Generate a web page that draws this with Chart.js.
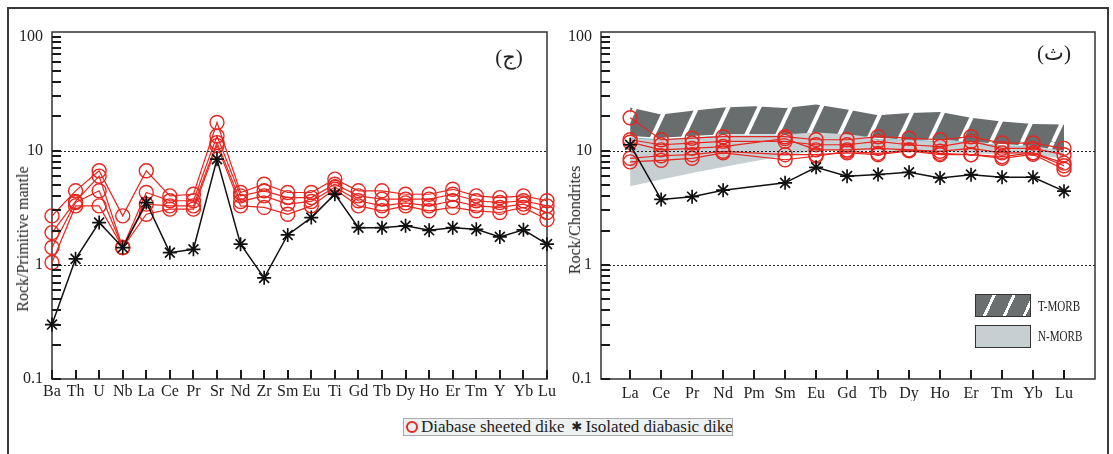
<!DOCTYPE html>
<html>
<head>
<meta charset="utf-8">
<title>Spider diagrams</title>
<script src="https://cdn.jsdelivr.net/npm/chart.js@4.4.1/dist/chart.umd.min.js"></script>
<style>
  body { margin: 0; width: 1113px; height: 454px; overflow: hidden; position: relative; background: #fff;
         font-family: "Liberation Serif", "DejaVu Serif", serif; color: #222; }
  .frame { position: absolute; left: 7px; top: 7px; width: 1098px; height: 470px; border: 2px solid #3a3a3a; }
  .panel { position: absolute; top: 10px; height: 400px; }
  #left-panel { left: 8px; width: 560px; }
  #right-panel { left: 557px; width: 548px; }
  .ytitle { position: absolute; font-size: 16px; white-space: nowrap; transform: translate(-50%, -50%) rotate(-90deg); }
  .tag { position: absolute; font-family: "Liberation Serif", "DejaVu Sans", serif; font-size: 21px; transform: translate(-50%, -50%); direction: ltr; unicode-bidi: isolate; }
  .swatch { position: absolute; left: 975px; width: 54px; border: 1.5px solid #333; }
  #sw-t { top: 294px; height: 21px; background: repeating-linear-gradient(115deg, #6c6f70 0 15px, #fff 15px 18px); }
  #sw-n { top: 325px; height: 21px; background: #c8cfd3; }
  .swlabel { position: absolute; left: 1038px; font-size: 15px; transform: scaleX(0.74); transform-origin: left center; line-height: 15px; }
  .legend { position: absolute; left: 403px; top: 418px; width: 328px; height: 16px; background: #edf1f1; border: 1px solid #aaa;
            display: flex; align-items: center; font-size: 17px; line-height: 16px; white-space: nowrap; overflow: hidden; }
  .ring { flex: 0 0 auto; width: 8px; height: 8px; border: 2px solid #e62a22; border-radius: 50%; margin: 0 3px 0 2px; }
  .ast { flex: 0 0 auto; font-family: "DejaVu Sans", sans-serif; font-size: 13px; margin: 0 3px 0 7px; }
</style>
</head>
<body>
<div class="frame"></div>
<div class="panel" id="left-panel"><canvas id="chart-pm"></canvas></div>
<div class="panel" id="right-panel"><canvas id="chart-ree"></canvas></div>
<div class="ytitle" style="left:23px; top:239px;">Rock/Primitive mantle</div>
<div class="ytitle" style="left:575px; top:220px;">Rock/Chondrites</div>
<div class="tag" style="left:509px; top:57px;">(ج)</div>
<div class="tag" style="left:1054px; top:53px;">(ث)</div>
<div class="swatch" id="sw-t"></div>
<div class="swatch" id="sw-n"></div>
<div class="swlabel" style="top:299px;">T-MORB</div>
<div class="swlabel" style="top:329px;">N-MORB</div>
<div class="legend"><span class="ring"></span>Diabase sheeted dike<span class="ast">✱</span>Isolated diabasic dike</div>
<script>
// primitive-mantle normalised (left panel)
const pmLabels = ['Ba','Th','U','Nb','La','Ce','Pr','Sr','Nd','Zr','Sm','Eu','Ti','Gd','Tb','Dy','Ho','Er','Tm','Y','Yb','Lu'];
const pmIsolated = [0.30,1.13,2.35,1.42,3.52,1.28,1.37,8.45,1.52,0.77,1.83,2.60,4.17,2.12,2.12,2.20,2.01,2.12,2.05,1.76,2.03,1.52];
const pmSheeted1 = [2.69,4.46,6.68,2.69,6.68,4.03,4.16,17.7,4.31,5.10,4.31,4.31,5.65,4.46,4.46,4.16,4.16,4.60,4.03,3.89,4.03,3.65];
const pmSheeted2 = [1.92,3.60,6.00,1.42,4.31,3.65,3.65,13.5,4.03,4.46,3.89,3.89,5.10,4.03,3.77,3.77,3.77,4.16,3.65,3.52,3.65,3.29];
const pmSheeted3 = [1.42,3.52,4.46,1.42,3.41,3.29,3.29,11.8,3.60,4.03,3.41,3.60,4.80,3.65,3.29,3.50,3.29,3.65,3.29,3.19,3.41,2.88];
const pmSheeted4 = [1.05,3.29,3.29,1.42,2.78,3.08,3.08,11.1,3.29,3.19,2.78,3.29,4.60,3.29,2.98,3.29,2.98,3.19,2.98,2.88,3.19,2.50];

// chondrite normalised REE (right panel), Pm not analysed
const reeLabels = ['La','Ce','Pr','Nd','Pm','Sm','Eu','Gd','Tb','Dy','Ho','Er','Tm','Yb','Lu'];
const reeIsolated = [11.3,3.75,3.96,4.52,null,5.24,7.17,6.00,6.20,6.49,5.79,6.18,5.87,5.87,4.43];
const reeSheeted1 = [19.5,12.5,12.9,13.3,null,13.3,12.5,12.5,13.3,12.9,12.5,13.3,11.7,11.7,10.5];
const reeSheeted2 = [12.5,11.3,11.7,12.1,null,12.1,11.3,11.3,12.1,11.3,10.9,12.1,10.5,10.5,9.25];
const reeSheeted3 = [11.9,10.2,10.5,10.9,null,12.8,10.2,10.2,10.5,10.2,9.9,10.5,9.6,9.6,7.8];
const reeSheeted4 = [8.6,9.05,9.25,9.9,null,9.25,9.25,9.6,9.25,10.0,9.25,9.25,8.6,9.3,6.9];
const reeSheeted5 = [8.0,8.25,8.6,9.6,null,8.35,9.0,9.9,9.5,10.2,9.5,9.25,8.9,9.6,7.4];
const tmorbLow  = [13.5,13.0,13.5,14.0,14.0,14.0,14.5,14.0,13.0,12.5,12.5,12.0,11.5,11.0,10.0];
const tmorbHigh = [24.0,20.8,22.4,24.0,24.6,23.7,25.5,23.0,20.5,21.4,21.9,19.5,18.1,17.2,17.0];
const nmorbLow  = [4.9,5.6,6.4,7.2,8.1,9.0,10.0,10.0,10.0,10.0,9.8,9.5,9.3,9.3,8.5];
const nmorbHigh = [13.0,12.5,13.0,13.5,13.5,13.5,15.5,14.5,12.5,12.5,12.0,12.0,11.0,11.0,10.5];

// log axis
const decades = [0.1, 1, 10, 100];
const refLines = [1, 10];
const yTickValues = [];
decades.forEach(d => {
  for (let m = 1; m <= 9; m++) {
    if (d === 100 && m > 1) break;
    yTickValues.push(+(d * m).toPrecision(3));
  }
});

const RED = 'rgb(230, 38, 32)';
Chart.defaults.font.family = '"Liberation Serif", "DejaVu Serif", serif';
Chart.defaults.font.size = 16;
Chart.defaults.color = '#222';

// frame, dotted reference lines and inward tick marks
const framePlugin = {
  id: 'framePlugin',
  beforeDatasetsDraw(chart) {
    const { ctx, chartArea: a } = chart;
    ctx.save();
    ctx.strokeStyle = '#333';
    ctx.lineWidth = 1.5;
    ctx.strokeRect(a.left, a.top, a.right - a.left, a.bottom - a.top);
    ctx.restore();
  },
  afterDatasetsDraw(chart) {
    const { ctx, chartArea: a } = chart;
    const x = chart.scales.x;
    const y = chart.scales.y;
    ctx.save();
    ctx.strokeStyle = '#222';
    ctx.lineWidth = 1.2;
    ctx.setLineDash([2, 2]);
    refLines.forEach(v => {
      const py = Math.round(y.getPixelForValue(v)) + 0.5;
      ctx.beginPath();
      ctx.moveTo(a.left, py);
      ctx.lineTo(a.right, py);
      ctx.stroke();
    });
    ctx.setLineDash([]);
    ctx.strokeStyle = '#1a1a1a';
    ctx.lineWidth = 2;
    x.ticks.forEach(t => {
      const px = Math.round(x.getPixelForValue(t.value));
      ctx.beginPath();
      ctx.moveTo(px, a.bottom);
      ctx.lineTo(px, a.bottom - 9);
      ctx.stroke();
    });
    yTickValues.forEach(v => {
      const py = Math.round(y.getPixelForValue(v));
      ctx.beginPath();
      ctx.moveTo(a.left, py);
      ctx.lineTo(a.left + 9, py);
      ctx.stroke();
    });
    ctx.restore();
  }
};

function yAxis() {
  return {
    type: 'logarithmic',
    min: 0.1,
    max: 110,
    afterBuildTicks: s => { s.ticks = yTickValues.map(v => ({ value: v })); },
    afterFit: s => { s.width = 44; },
    grid: { display: false, drawTicks: false },
    border: { display: false },
    ticks: { autoSkip: false, padding: 9, callback: v => decades.includes(v) ? String(v) : '' }
  };
}

function sheetedSet(values, toPoints) {
  return {
    data: toPoints ? toPoints(values) : values,
    borderColor: RED,
    borderWidth: 1.2,
    pointStyle: 'circle',
    pointRadius: 7,
    pointBorderWidth: 1.4,
    pointBorderColor: RED,
    pointBackgroundColor: 'rgba(0,0,0,0)',
    spanGaps: true,
    tension: 0,
    order: 2
  };
}

function isolatedSet(values, toPoints) {
  return {
    data: toPoints ? toPoints(values) : values,
    borderColor: '#111',
    borderWidth: 1.5,
    pointStyle: 'star',
    pointRadius: 7,
    pointBorderWidth: 1.7,
    pointBorderColor: '#111',
    spanGaps: true,
    tension: 0,
    order: 1
  };
}

const common = {
  responsive: true,
  maintainAspectRatio: false,
  animation: false,
  events: [],
  plugins: { legend: { display: false }, tooltip: { enabled: false } }
};

new Chart(document.getElementById('chart-pm'), {
  type: 'line',
  data: {
    labels: pmLabels,
    datasets: [
      isolatedSet(pmIsolated),
      sheetedSet(pmSheeted1),
      sheetedSet(pmSheeted2),
      sheetedSet(pmSheeted3),
      sheetedSet(pmSheeted4)
    ]
  },
  options: {
    ...common,
    layout: { padding: { top: 22, right: 21, bottom: 9, left: 0 } },
    scales: {
      x: {
        type: 'category',
        offset: false,
        afterFit: s => { s.height = 22; },
        grid: { display: false, drawTicks: false },
        border: { display: false },
        ticks: { autoSkip: false, maxRotation: 0, padding: 3 }
      },
      y: yAxis()
    }
  },
  plugins: [framePlugin]
});

function hatchPattern() {
  const c = document.createElement('canvas');
  c.width = 31;
  c.height = 66;
  const g = c.getContext('2d');
  g.fillStyle = '#6a6d6e';
  g.fillRect(0, 0, 31, 66);
  g.strokeStyle = '#ffffff';
  g.lineWidth = 4;
  for (let k = -1; k <= 1; k++) {
    g.beginPath();
    g.moveTo(k * 31, 66);
    g.lineTo(k * 31 + 31, 0);
    g.stroke();
  }
  return g.createPattern(c, 'repeat');
}

const toPoints = values => values.map((v, i) => ({ x: i, y: v }));
const bandEdge = (values, extra) => Object.assign({
  data: toPoints(values),
  borderWidth: 0,
  pointRadius: 0,
  tension: 0,
  fill: false
}, extra);

new Chart(document.getElementById('chart-ree'), {
  type: 'line',
  data: {
    datasets: [
      isolatedSet(reeIsolated, toPoints),
      sheetedSet(reeSheeted1, toPoints),
      sheetedSet(reeSheeted2, toPoints),
      sheetedSet(reeSheeted3, toPoints),
      sheetedSet(reeSheeted4, toPoints),
      sheetedSet(reeSheeted5, toPoints),
      bandEdge(nmorbLow, { order: 20 }),
      bandEdge(nmorbHigh, { order: 20, fill: { target: 6 }, backgroundColor: '#c8cfd3', borderWidth: 1, borderColor: 'rgba(110,180,195,0.8)' }),
      bandEdge(tmorbLow, { order: 10 }),
      bandEdge(tmorbHigh, { order: 10, fill: { target: 8 }, backgroundColor: hatchPattern() })
    ]
  },
  options: {
    ...common,
    layout: { padding: { top: 22, right: 10, bottom: 9, left: 0 } },
    scales: {
      x: {
        type: 'linear',
        min: -0.94,
        max: 15,
        afterBuildTicks: s => { s.ticks = reeLabels.map((_, i) => ({ value: i })); },
        afterFit: s => { s.height = 22; },
        grid: { display: false, drawTicks: false },
        border: { display: false },
        ticks: { autoSkip: false, maxRotation: 0, padding: 5, callback: v => reeLabels[v] }
      },
      y: yAxis()
    }
  },
  plugins: [framePlugin]
});
</script>
</body>
</html>
